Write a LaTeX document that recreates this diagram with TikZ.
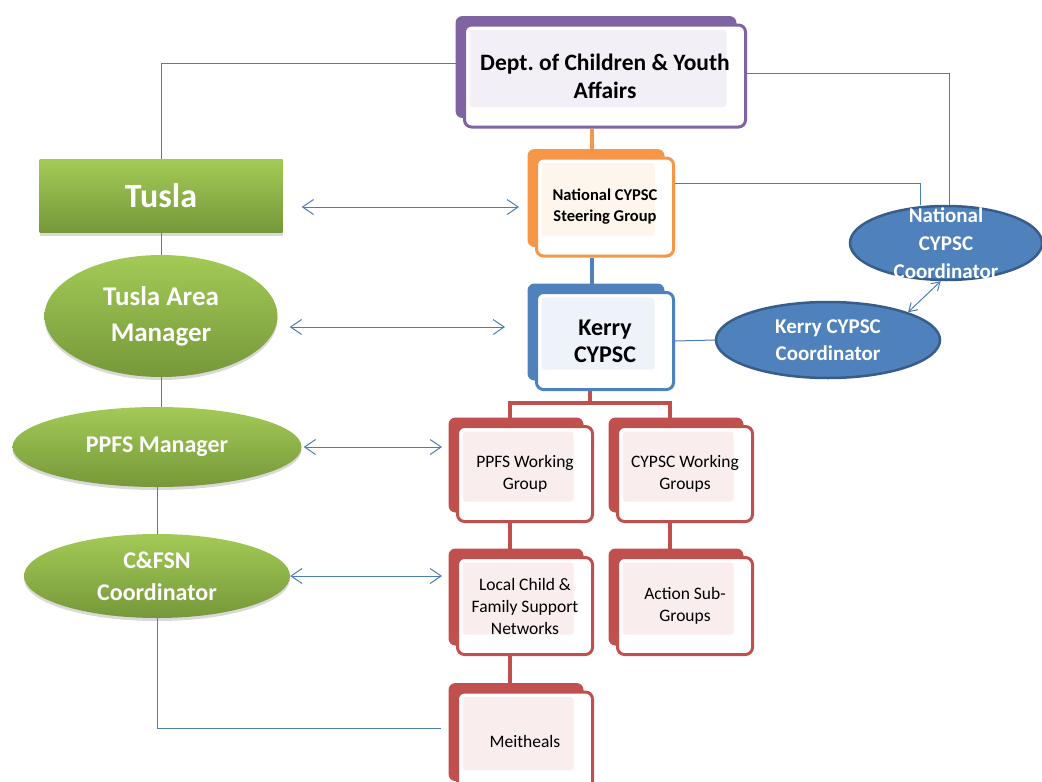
\documentclass[tikz,border=0pt]{standalone}
\usepackage{fontspec}
\setmainfont{Carlito}
\usepackage{tikz}
\usetikzlibrary{arrows.meta,backgrounds,calc,shadows,shapes.geometric}
\frenchspacing

\definecolor{dcyaPurple}{HTML}{8064A2}
\definecolor{cypscOrange}{HTML}{F79646}
\definecolor{cypscBlue}{HTML}{4F81BD}
\definecolor{cypscRed}{HTML}{C0504D}
\definecolor{coordEdge}{HTML}{385D8A}
\definecolor{linkBlue}{HTML}{4A7EBB}
\definecolor{tuslaTop}{HTML}{A3CA56}
\definecolor{tuslaBot}{HTML}{76983A}

\tikzset{
  card/.style={rectangle, rounded corners=7pt, draw=#1, line width=3pt, fill=white,
    minimum width=137pt, minimum height=98pt, align=center, inner sep=2pt,
    general shadow={fill=#1, shadow xshift=-9pt, shadow yshift=9pt},
    path picture={\fill[#1!10, rounded corners=3pt]
      ([shift={(5pt,-5pt)}]path picture bounding box.north west) rectangle
      ([shift={(-19pt,20pt)}]path picture bounding box.south east);}},
  redcard/.style={card=cypscRed, minimum width=135pt, font=\fontsize{17.5}{22}\selectfont},
  tusla/.style={draw=none, top color=tuslaTop, bottom color=tuslaBot, text=white, align=center,
    drop shadow={opacity=0.3, shadow xshift=0pt, shadow yshift=-3pt}},
  coord/.style={ellipse, fill=cypscBlue, draw=coordEdge, line width=2.5pt, text=white,
    font=\bfseries\fontsize{21}{27}\selectfont, align=center, inner sep=0pt},
  link/.style={draw=linkBlue, line width=1pt},
  twoway/.style={link, {Straight Barb[length=11pt,width=15pt]}-{Straight Barb[length=11pt,width=15pt]}},
  spine/.style={line width=4pt, draw=#1},
}

\begin{document}
\begin{tikzpicture}[x=1pt, y=-1pt]
\useasboundingbox (0,0) rectangle (1042,782);

\node[card=dcyaPurple, minimum width=281pt, minimum height=102pt, font=\bfseries\fontsize{23.5}{28}\selectfont] (dcya) at (605,76) {Dept. of Children \& Youth\\Affairs};
\node[card=cypscOrange, font=\bfseries\fontsize{16.5}{21}\selectfont] (nsg) at (605,207) {National CYPSC\\Steering Group};
\node[card=cypscBlue, minimum height=97pt, font=\bfseries\fontsize{24}{27}\selectfont] (kerry) at (605,341) {Kerry\\CYPSC};
\node[redcard, minimum height=95pt] (ppfswg) at (525,474) {PPFS Working\\Group};
\node[redcard, minimum height=95pt] (cypscwg) at (685,474) {CYPSC Working\\Groups};
\node[redcard, minimum height=97pt] (lcfsn) at (525,606) {Local Child \&\\Family Support\\Networks};
\node[redcard, minimum height=97pt] (asg) at (685,606) {Action Sub-\\Groups};
\node[redcard, minimum height=98pt] (meith) at (525,741) {Meitheals};

\node[tusla, rectangle, minimum width=243pt, minimum height=73pt, font=\bfseries\fontsize{34}{40}\selectfont] (tsl) at (161,196) {Tusla};
\node[tusla, ellipse, minimum width=233pt, minimum height=122pt, font=\bfseries\fontsize{27}{36}\selectfont] (tam) at (161,316) {Tusla Area\\Manager};
\node[tusla, ellipse, minimum width=289pt, minimum height=80pt, font=\bfseries\fontsize{24}{30}\selectfont] (ppfsm) at (157,447) {PPFS Manager};
\node[tusla, ellipse, minimum width=266pt, minimum height=84pt, font=\bfseries\fontsize{24}{32}\selectfont] (cfsn) at (157,576) {C\&FSN\\Coordinator};

\node[coord, minimum width=192pt, minimum height=74pt,
  label={[text=white, font=\bfseries\fontsize{21}{28}\selectfont, align=center]center:National\\CYPSC\\Coordinator}] (natcoord) at (946,243) {};
\node[coord, minimum width=224pt, minimum height=76pt] (kcoord) at (828,340) {Kerry CYPSC\\Coordinator};

\begin{scope}[on background layer]
\draw[spine=cypscOrange] ([xshift=-13pt]dcya.south) -- ([xshift=-13pt]nsg.north);
\draw[spine=cypscBlue] ([xshift=-13pt]nsg.south) -- ([xshift=-13pt]kerry.north);
\draw[spine=cypscRed] ([xshift=-15pt]kerry.south) -- ++(0,12) -| ([xshift=-15pt]ppfswg.north);
\draw[spine=cypscRed] ([xshift=-15pt]kerry.south) -- ++(0,12) -| ([xshift=-15pt]cypscwg.north);
\draw[spine=cypscRed] ([xshift=-15pt]ppfswg.south) -- ([xshift=-15pt]lcfsn.north);
\draw[spine=cypscRed] ([xshift=-15pt]cypscwg.south) -- ([xshift=-15pt]asg.north);
\draw[spine=cypscRed] ([xshift=-15pt]lcfsn.south) -- ([xshift=-15pt]meith.north);

\draw[link] ([yshift=13pt]dcya.west) -| (tsl.north);
\draw[link] ([yshift=3pt]dcya.east) -| ([xshift=3pt]natcoord.north);
\draw[link] ([yshift=24pt]nsg.east) -| ([xshift=-26pt]natcoord.north);
\draw[link] (tsl.south) -- (tam.north);
\draw[link] (tam.south) -- (tam.south |- ppfsm.north);
\draw[link] (ppfsm.south) -- (cfsn.north);
\draw[link] (cfsn.south) |- ([shift={(-15pt,13pt)}]meith.west);
\draw[link] (kerry.east) -- (kcoord.west);
\end{scope}

\draw[link, {Straight Barb[length=8pt,width=10pt]}-{Straight Barb[length=8pt,width=10pt]}] (natcoord.262) -- (kcoord.north east);
\draw[twoway] ($(tsl.east |- nsg.west)+(19,0)$) -- ($(nsg.west)+(-16,0)$);
\draw[twoway] ($(tam.east)+(12,11)$) -- ($(kerry.west |- tam.east)+(-30,11)$);
\draw[twoway] ($(ppfsm.east)+(2,0)$) -- ($(ppfswg.west |- ppfsm.east)+(-14,0)$);
\draw[twoway] (cfsn.east) -- ($(lcfsn.west |- cfsn.east)+(-14,0)$);
\end{tikzpicture}
\end{document}
